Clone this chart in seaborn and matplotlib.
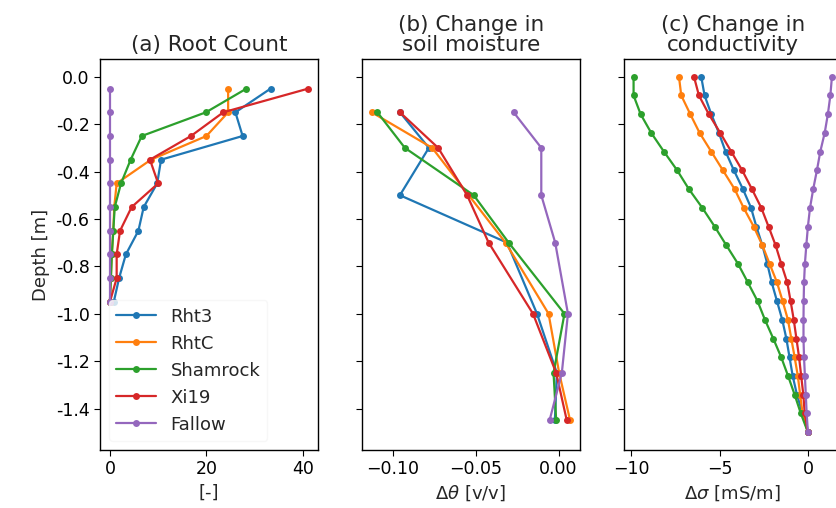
import numpy as np
import pandas as pd
import matplotlib
matplotlib.use("Agg")
import matplotlib.pyplot as plt
from matplotlib.ticker import MultipleLocator
import seaborn as sns

# -----------------------
# DATA
# -----------------------
varieties = ["Rht3", "RhtC", "Shamrock", "Xi19", "Fallow"]

# (a) root count
depth_a = [-0.05, -0.15, -0.25, -0.35, -0.45, -0.55, -0.65, -0.75, -0.85, -0.95]
roots_rht3 = [33.3, 26.0, 27.5, 10.6, 9.8, 7.0, 5.9, 3.3, 1.9, 0.8]
roots_rhtc = [24.5, 24.5, 20.0, 8.5, 1.4, 0.9, 0.7, 0.4, 0.2, 0.0]
roots_shamrock = [28.3, 19.9, 6.6, 4.3, 2.3, 1.0, 0.7, 0.4, 0.2, 0.0]
roots_xi19 = [41.1, 23.5, 16.8, 8.3, 10.0, 4.5, 2.1, 1.4, 1.4, 0.0]
roots_fallow = [0.0, 0.0, 0.0, 0.0, 0.0, 0.0, 0.0, 0.0, 0.0, 0.0]

# (b) change in soil moisture
depth_b = [-0.15, -0.30, -0.50, -0.70, -1.00, -1.25, -1.45]
theta_rht3 = [-0.0958, -0.0783, -0.0958, -0.0311, -0.0130, -0.0010, -0.0022]
theta_rhtc = [-0.1128, -0.0763, -0.0542, -0.0320, -0.0060, 0.0004, 0.0070]
theta_shamrock = [-0.1094, -0.0928, -0.0512, -0.0301, 0.0036, -0.0030, -0.0014]
theta_xi19 = [-0.0958, -0.0727, -0.0552, -0.0422, -0.0154, -0.0014, 0.0050]
theta_fallow = [-0.0271, -0.0104, -0.0104, -0.0020, 0.0057, 0.0020, -0.0054]

# (c) change in conductivity
depth_c = [0.0, -0.079, -0.158, -0.237, -0.316, -0.395, -0.474, -0.553, -0.632, -0.711,
           -0.789, -0.868, -0.947, -1.026, -1.105, -1.184, -1.263, -1.342, -1.421, -1.5]
sigma_rht3 = [-6.04, -5.85, -5.47, -5.04, -4.66, -4.19, -3.68, -3.22, -2.92, -2.58,
              -2.30, -2.05, -1.75, -1.45, -1.22, -1.04, -0.86, -0.62, -0.30, 0.0]
sigma_rhtc = [-7.30, -7.17, -6.66, -6.13, -5.47, -4.81, -4.15, -3.64, -3.07, -2.58,
              -2.17, -1.75, -1.43, -1.13, -0.94, -0.75, -0.57, -0.44, -0.30, 0.0]
sigma_shamrock = [-9.87, -9.87, -9.47, -8.87, -8.15, -7.40, -6.74, -5.98, -5.28, -4.62,
                  -3.96, -3.40, -2.85, -2.43, -1.96, -1.51, -1.12, -0.75, -0.40, 0.0]
sigma_xi19 = [-6.45, -6.17, -5.61, -4.96, -4.34, -3.72, -3.17, -2.64, -2.23, -1.83,
              -1.51, -1.17, -0.98, -0.80, -0.65, -0.50, -0.38, -0.26, -0.18, 0.0]
sigma_fallow = [1.36, 1.27, 1.13, 0.95, 0.70, 0.51, 0.30, 0.12, 0.0, -0.09,
                -0.17, -0.22, -0.24, -0.25, -0.25, -0.22, -0.17, -0.12, -0.07, 0.0]


def long_df(depth, series):
    rows = []
    for name, vals in zip(varieties, series):
        for d, v in zip(depth, vals):
            rows.append({"variety": name, "depth": d, "value": v})
    return pd.DataFrame(rows)


df_a = long_df(depth_a, [roots_rht3, roots_rhtc, roots_shamrock, roots_xi19, roots_fallow])
df_b = long_df(depth_b, [theta_rht3, theta_rhtc, theta_shamrock, theta_xi19, theta_fallow])
df_c = long_df(depth_c, [sigma_rht3, sigma_rhtc, sigma_shamrock, sigma_xi19, sigma_fallow])

# -----------------------
# PLOT
# -----------------------
sns.set_style("ticks")
plt.rcParams["font.family"] = ["DejaVu Sans"]
plt.rcParams["axes.edgecolor"] = "black"
plt.rcParams["xtick.color"] = "black"
plt.rcParams["ytick.color"] = "black"

palette = sns.color_palette("tab10", 5)
line_kw = dict(hue="variety", palette=palette, marker="o", markersize=5,
               markeredgewidth=0, linewidth=1.6, sort=False, estimator=None)

fig, axes = plt.subplots(1, 3, figsize=(8.36, 5.08), dpi=100, sharey=True)
fig.subplots_adjust(left=0.1196, right=1.007, bottom=0.1142, top=0.8839, wspace=0.2)

sns.lineplot(data=df_a, x="value", y="depth", ax=axes[0], **line_kw)
sns.lineplot(data=df_b, x="value", y="depth", ax=axes[1], legend=False, **line_kw)
sns.lineplot(data=df_c, x="value", y="depth", ax=axes[2], legend=False, **line_kw)

titles = ["(a) Root Count", "(b) Change in\nsoil moisture", "(c) Change in\nconductivity"]
xlabels = ["[-]", r"$\Delta\theta$ [v/v]", r"$\Delta\sigma$ [mS/m]"]
steps = [20, 0.05, 5]

for ax, t, xl, st in zip(axes, titles, xlabels, steps):
    ax.set_title(t, fontsize=15.5, pad=6, linespacing=1.0)
    ax.set_xlabel(xl, fontsize=13)
    ax.set_ylabel("")
    ax.xaxis.set_major_locator(MultipleLocator(st))
    ax.yaxis.set_major_locator(MultipleLocator(0.2))
    ax.tick_params(labelsize=12.5, length=4)
    for s in ax.spines.values():
        s.set_linewidth(1.0)

axes[0].set_ylabel("Depth [m]", fontsize=13)
axes[0].yaxis.set_major_formatter(matplotlib.ticker.FormatStrFormatter("%.1f"))
leg = axes[0].legend(loc="lower left", fontsize=13, handlelength=2.2, framealpha=0.8)
leg.get_frame().set_edgecolor("0.96")

fig.savefig("out.png", dpi=100)
